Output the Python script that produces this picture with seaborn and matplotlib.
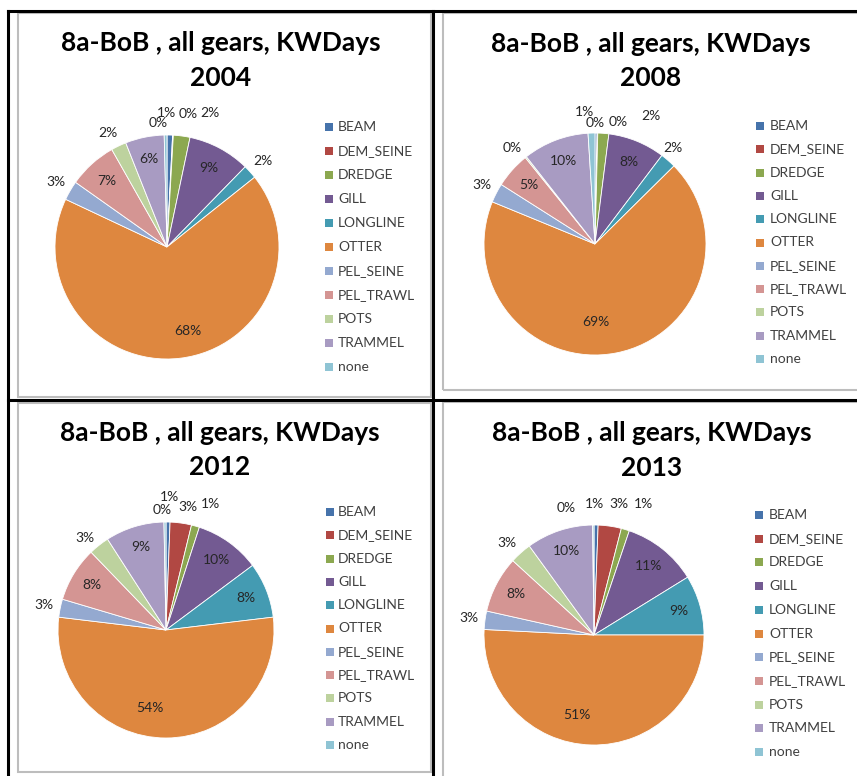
import numpy as np
import pandas as pd
import seaborn as sns
import matplotlib
matplotlib.use("Agg")
import matplotlib.pyplot as plt
from matplotlib.patches import Rectangle
from matplotlib.lines import Line2D

# Fishing effort (KW days) share by gear type, area 8a Bay of Biscay
gears = ["BEAM", "DEM_SEINE", "DREDGE", "GILL", "LONGLINE", "OTTER",
         "PEL_SEINE", "PEL_TRAWL", "POTS", "TRAMMEL", "none"]
kwdays_2004 = [0.8, 0.1, 2.4, 9.0, 2.0, 67.7, 2.8, 7.0, 2.2, 5.6, 0.4]
kwdays_2008 = [0.3, 0.1, 1.6, 8.3, 2.3, 68.6, 2.8, 5.2, 0.2, 9.6, 1.0]
kwdays_2012 = [0.6, 3.2, 1.2, 9.8, 8.3, 53.8, 2.7, 8.2, 3.1, 8.8, 0.3]
kwdays_2013 = [0.6, 3.4, 1.2, 11.0, 8.8, 50.8, 2.7, 8.3, 3.2, 9.8, 0.2]
years = ["2004", "2008", "2012", "2013"]
title_text = "8a-BoB , all gears, KWDays"

df = pd.DataFrame({"gear": gears, "2004": kwdays_2004, "2008": kwdays_2008,
                   "2012": kwdays_2012, "2013": kwdays_2013})

sns.set_theme(style="white")
plt.rcParams["font.family"] = ["Lato", "DejaVu Sans"]

palette = sns.color_palette([
    "#4673AB", "#B14843", "#8CA850", "#735A92", "#449BB2", "#DE873F",
    "#94A9D0", "#D49593", "#BDD29E", "#A89BC2", "#8FC4D4",
])

W, H = 857, 776
fig = plt.figure(figsize=(W / 100, H / 100), dpi=100)
ax = fig.add_axes([0, 0, 1, 1])


def Y(y):
    return H - y


# panel layout: pie centre/radius, title centre, legend anchor, frame box
panels = {
    "2004": dict(c=(167, 247), r=112, tx=221, ty=(43, 78),
                 lx=325, ltx=338, ly=127, ls=24.0, box=(18, 13, 431, 397)),
    "2008": dict(c=(595, 244), r=111, tx=651, ty=(44, 78),
                 lx=756, ltx=770, ly=126, ls=23.3, box=(443, 13, 880, 390)),
    "2012": dict(c=(166, 630), r=108, tx=220, ty=(433, 467),
                 lx=326, ltx=338, ly=512, ls=23.3, box=(18, 403, 431, 772)),
    "2013": dict(c=(594, 635), r=110, tx=652, ty=(433, 468),
                 lx=755, ltx=769, ly=515, ls=23.7, box=(443, 402, 880, 800)),
}

# small shifts that keep crowded data labels apart
label_shift = {
    "2004": {"BEAM": (-4, -5), "DEM_SEINE": (14, -4), "DREDGE": (26, -6),
             "none": (-7, 5), "OTTER": (11, -2), "POTS": (-4, 2)},
    "2008": {"BEAM": (-1, 7), "DEM_SEINE": (20, 6), "DREDGE": (46, -1),
             "none": (-7, -4), "LONGLINE": (-6, 0), "POTS": (-3, 4),
             "OTTER": (-16, -6)},
    "2012": {"BEAM": (1, -9), "DEM_SEINE": (5, 0), "DREDGE": (11, -7),
             "none": (-3, 4), "POTS": (-4, 5), "OTTER": (-16, -5)},
    "2013": {"BEAM": (-2, -5), "DEM_SEINE": (7, -6), "DREDGE": (13, -10),
             "none": (-27, -1), "POTS": (-3, 2), "OTTER": (-15, -5)},
}

label_color = "#262626"
legend_color = "#404040"

for year in years:
    p = panels[year]
    vals = df[year].to_numpy(dtype=float)
    cx, cy = p["c"]
    r = p["r"]

    # chart frame
    x0, y0, x1, y1 = p["box"]
    ax.add_patch(Rectangle((x0, Y(y1)), x1 - x0, y1 - y0, fill=False,
                           edgecolor="#BDBDBD", linewidth=1.5, zorder=1))

    ax.pie(vals, colors=palette, startangle=90, counterclock=False,
           center=(cx, Y(cy)), radius=r,
           wedgeprops=dict(edgecolor="white", linewidth=0.6))

    pct = vals / vals.sum() * 100
    ends = np.cumsum(pct)
    mids = ends - pct / 2
    for g, share, mid in zip(gears, pct, mids):
        theta = np.deg2rad(mid * 3.6)
        if g == "OTTER":
            d = 0.77 * r
        elif share >= 4:
            d = 0.80 * r
        else:
            d = 1.15 * r
        dx, dy = label_shift[year].get(g, (0, 0))
        lx = cx + d * np.sin(theta) + dx
        ly = cy - d * np.cos(theta) + dy
        ax.text(lx, Y(ly), f"{int(share + 0.5)}%", ha="center", va="center",
                fontsize=10, color=label_color, zorder=5)

    # two-line bold title
    ax.text(p["tx"], Y(p["ty"][0]), title_text, ha="center", va="center",
            fontsize=19, fontweight="bold", color="black")
    ax.text(p["tx"], Y(p["ty"][1]), year, ha="center", va="center",
            fontsize=19, fontweight="bold", color="black")

    # legend
    for i, g in enumerate(gears):
        yy = p["ly"] + i * p["ls"]
        ax.add_patch(Rectangle((p["lx"], Y(yy + 4)), 8, 8,
                               facecolor=palette[i], edgecolor="none"))
        ax.text(p["ltx"], Y(yy), g, ha="left", va="center",
                fontsize=10, color=legend_color)

# table grid lines
for (xa, ya, xb, yb) in [(8, 11, 8, 776), (8, 11, 857, 11),
                         (433, 11, 433, 776), (8, 400, 857, 400)]:
    ax.add_line(Line2D([xa, xb], [Y(ya), Y(yb)], color="black",
                       linewidth=2.2, solid_capstyle="projecting", zorder=6))

ax.set_xlim(0, W)
ax.set_ylim(0, H)
ax.set_aspect("equal")
ax.axis("off")

fig.savefig("out.png", dpi=100, facecolor="white")
